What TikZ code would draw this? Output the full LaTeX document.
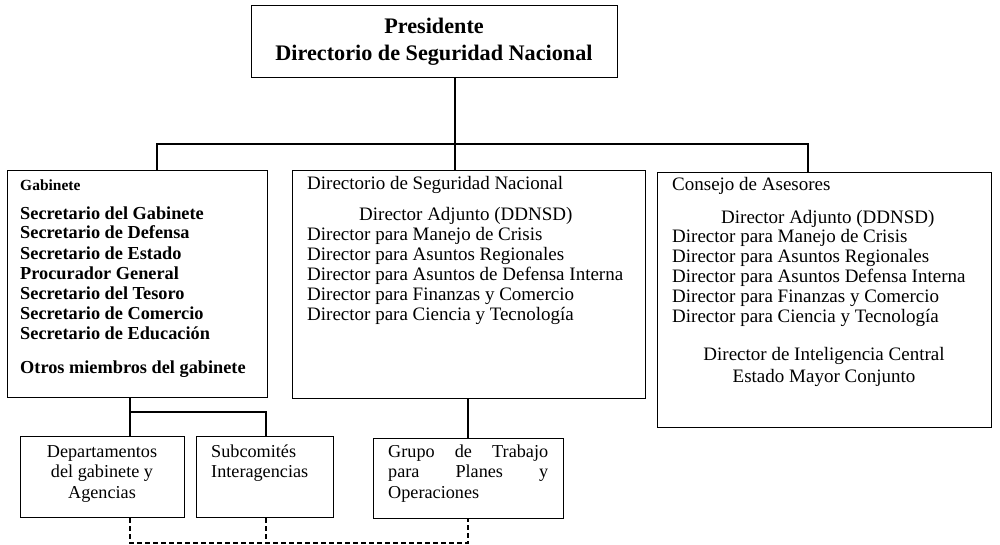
\documentclass[tikz,border=0pt]{standalone}
\usepackage{fontspec}
\setmainfont{Liberation Serif}
\begin{document}
\begin{tikzpicture}[x=1pt,y=-1pt,
  box/.style={draw, line width=1.3pt, inner sep=0pt, anchor=north west},
  conn/.style={line width=1.2pt},
  dashline/.style={line width=1.2pt, dash pattern=on 5pt off 3pt},
  reg/.style={font=\fontsize{19}{20}\selectfont, inner sep=0pt},
  bld/.style={font=\bfseries\fontsize{18.3}{20}\selectfont, inner sep=0pt},
  small/.style={font=\fontsize{18.2}{20}\selectfont, inner sep=0pt}]
\useasboundingbox (0,0) rectangle (1000,545);
% boxes
\node[box, minimum width=366pt, minimum height=72pt] (top) at (251,5) {};
\node[box, minimum width=260pt, minimum height=227pt] (gab) at (7,170) {};
\node[box, minimum width=353pt, minimum height=228pt] (mid) at (292,170) {};
\node[box, minimum width=334pt, minimum height=255pt] (con) at (657,172) {};
\node[box, minimum width=164pt, minimum height=81pt] (dep) at (20,436) {};
\node[box, minimum width=137pt, minimum height=81pt] (sub) at (196,436) {};
\node[box, minimum width=190pt, minimum height=80pt] (gru) at (373,438) {};
% top text
\node[font=\bfseries\fontsize{22.2}{27}\selectfont, align=center, inner sep=0pt] (toptext) at (434,42) {Presidente\\Directorio de Seguridad Nacional};
% gabinete text
\node[anchor=base west, font=\bfseries\fontsize{15.5}{16}\selectfont, inner sep=0pt] (gabh) at (20,191) {Gabinete};
\foreach \t [count=\i] in {Secretario del Gabinete,Secretario de Defensa,Secretario de Estado,Procurador General,Secretario del Tesoro,Secretario de Comercio,Secretario de Educación}
  \node[anchor=base west, bld] (gl\i) at (20,199+20*\i) {\t};
\node[anchor=base west, bld] (gabo) at (20,373) {Otros miembros del gabinete};
% middle text
\node[anchor=base west, reg] (midh) at (307,190) {Directorio de Seguridad Nacional};
\node[anchor=base west, reg] (midd) at (359,221) {Director Adjunto (DDNSD)};
\foreach \t [count=\i] in {Director para Manejo de Crisis,Director para Asuntos Regionales,Director para Asuntos de Defensa Interna,Director para Finanzas y Comercio,Director para Ciencia y Tecnología}
  \node[anchor=base west, reg] (ml\i) at (307,221+19.8*\i) {\t};
% right text
\node[anchor=base west, reg] (conh) at (672,191) {Consejo de Asesores};
\node[anchor=base west, reg] (cond) at (721,223) {Director Adjunto (DDNSD)};
\foreach \t [count=\i] in {Director para Manejo de Crisis,Director para Asuntos Regionales,Director para Asuntos Defensa Interna,Director para Finanzas y Comercio,Director para Ciencia y Tecnología}
  \node[anchor=base west, reg] (cl\i) at (672,223+19.8*\i) {\t};
\node[anchor=base, reg] (coni) at (824,360) {Director de Inteligencia Central};
\node[anchor=base, reg] (cone) at (824,382) {Estado Mayor Conjunto};
% bottom boxes text
\node[anchor=base, small] (dep1) at (102,457) {Departamentos};
\node[anchor=base, small] (dep2) at (102,477) {del gabinete y};
\node[anchor=base, small] (dep3) at (102,498) {Agencias};
\node[anchor=base west, small] (sub1) at (211,457) {Subcomités};
\node[anchor=base west, small] (sub2) at (211,477) {Interagencias};
\node[anchor=base west, small] (gru1) at (388,457) {\hbox to 160pt{Grupo\hfill de\hfill Trabajo}};
\node[anchor=base west, small] (gru2) at (388,477) {\hbox to 160pt{para\hfill Planes\hfill y}};
\node[anchor=base west, small] (gru3) at (388,498) {Operaciones};
% connectors
\coordinate (cA) at (455,0);
\draw[conn] (top.south -| cA) -- (mid.north -| cA);
\coordinate (hl) at (157,144);
\coordinate (hr) at (808,144);
\draw[conn] (gab.north -| hl) -- (hl) -- (hr) -- (con.north -| hr);
\coordinate (b1) at (130,412);
\coordinate (b2) at (266,412);
\draw[conn] (gab.south -| b1) -- (dep.north -| b1);
\draw[conn] (b1) -- (b2) -- (sub.north -| b2);
\coordinate (g1) at (468,0);
\draw[conn] (mid.south -| g1) -- (gru.north -| g1);
\coordinate (d1) at (130,543);
\coordinate (d3) at (468,543);
\draw[dashline] (dep.south -| d1) -- (d1) -- (d3) -- (gru.south -| d3);
\draw[dashline] (sub.south -| b2) -- (d1 -| b2);
\end{tikzpicture}
\end{document}
